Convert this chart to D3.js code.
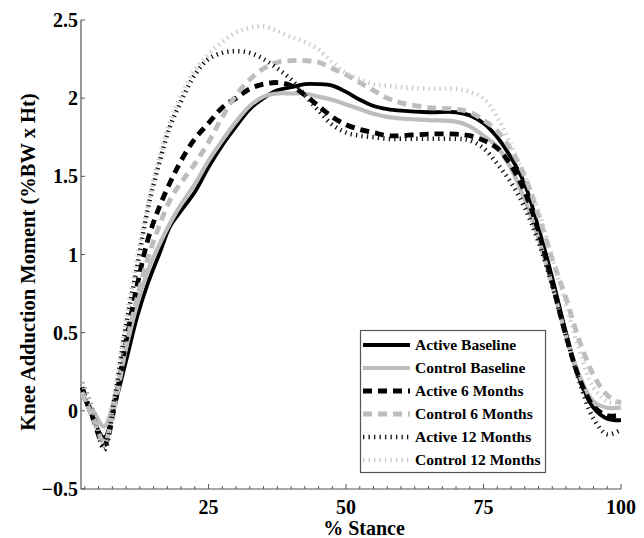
<!DOCTYPE html>
<html><head><meta charset="utf-8">
<script src="https://cdn.jsdelivr.net/npm/d3@7"></script>
<style>body{margin:0;background:#fff}svg{display:block}</style>
</head><body>
<svg id="chart" width="644" height="538"></svg>
<script>
const stance = [2,4,6,8,10,12,14,16,18,20,22.5,25,27.5,30,32.5,35,37.5,40,42.5,45,47.5,50,52.5,55,57.5,60,65,70,72.5,75,77.5,80,82.5,85,87.5,90,92.5,95,97.5,100];
const activeBaseline  = [0.12,-0.05,-0.17,0.05,0.32,0.60,0.82,1.00,1.18,1.28,1.40,1.56,1.70,1.82,1.93,2.00,2.05,2.07,2.09,2.09,2.08,2.04,1.99,1.95,1.93,1.92,1.91,1.91,1.89,1.84,1.75,1.62,1.45,1.17,0.85,0.50,0.20,0.02,-0.05,-0.06];
const controlBaseline = [0.10,0.00,-0.10,0.10,0.40,0.68,0.90,1.06,1.20,1.32,1.45,1.60,1.73,1.85,1.95,2.01,2.03,2.03,2.03,2.01,1.99,1.96,1.93,1.90,1.88,1.87,1.86,1.85,1.82,1.76,1.69,1.55,1.35,1.10,0.80,0.48,0.22,0.06,0.02,0.02];
const active6         = [0.15,-0.05,-0.22,0.05,0.45,0.80,1.10,1.30,1.46,1.60,1.74,1.84,1.94,2.00,2.06,2.09,2.10,2.08,2.02,1.95,1.88,1.83,1.80,1.78,1.76,1.76,1.77,1.77,1.76,1.73,1.68,1.57,1.40,1.15,0.82,0.48,0.20,0.03,-0.03,-0.03];
const control6        = [0.12,-0.05,-0.20,0.05,0.42,0.72,0.98,1.18,1.35,1.46,1.58,1.72,1.88,2.02,2.12,2.19,2.23,2.24,2.24,2.23,2.19,2.15,2.10,2.05,2.00,1.97,1.94,1.93,1.91,1.86,1.79,1.67,1.50,1.25,0.97,0.72,0.44,0.23,0.10,0.05];
const active12        = [0.18,0.00,-0.25,0.10,0.55,0.92,1.30,1.58,1.82,1.98,2.15,2.25,2.29,2.30,2.29,2.25,2.19,2.12,2.02,1.92,1.83,1.78,1.76,1.75,1.74,1.74,1.74,1.74,1.73,1.68,1.58,1.46,1.30,1.08,0.80,0.48,0.18,-0.05,-0.15,-0.12];
const control12       = [0.18,0.00,-0.22,0.12,0.58,0.98,1.32,1.62,1.85,2.02,2.18,2.28,2.36,2.42,2.45,2.46,2.43,2.39,2.36,2.31,2.23,2.16,2.12,2.09,2.08,2.07,2.06,2.06,2.04,2.00,1.88,1.70,1.50,1.28,0.98,0.68,0.38,0.15,0.06,0.05];

const seriesNames = ["Active Baseline","Control Baseline","Active 6 Months","Control 6 Months","Active 12 Months","Control 12 Months"];
const seriesValues = [activeBaseline,controlBaseline,active6,control6,active12,control12];
const yTicks = [-0.5,0,0.5,1,1.5,2,2.5];
const xTicks = [25,50,75,100];
const xLabel = "% Stance";
const yLabel = "Knee Adduction Moment (%BW x Ht)";

const styles = [
  {color:"#000", width:3.8, dash:null},
  {color:"#bdbdbd", width:4.2, dash:null},
  {color:"#000", width:4.8, dash:"9,6"},
  {color:"#bdbdbd", width:4.8, dash:"9,6"},
  {color:"#111", width:4.5, dash:"1.3,4.2"},
  {color:"#c8c8c8", width:4.5, dash:"1.3,4.2"}
];

const svg = d3.select("#chart");
const x = d3.scaleLinear().domain([1.8,100]).range([81,621]);
const y = d3.scaleLinear().domain([-0.5,2.5]).range([489,20]);
const font = "'Liberation Serif','Times New Roman',serif";

// axes
const axisColor = "#555";
svg.append("line").attr("x1",81).attr("x2",81).attr("y1",y(2.5)).attr("y2",y(-0.5)).attr("stroke",axisColor).attr("stroke-width",1.2);
svg.append("line").attr("x1",81).attr("x2",621).attr("y1",489).attr("y2",489).attr("stroke",axisColor).attr("stroke-width",1.2);

const minor = d3.range(2.5,100.01,2.5);
svg.selectAll(".mt").data(minor).join("line")
  .attr("x1",d=>x(d)).attr("x2",d=>x(d))
  .attr("y1",489).attr("y2",d=> (d%25===0)?484:486)
  .attr("stroke",axisColor).attr("stroke-width",1);
svg.selectAll(".xt").data(xTicks).join("text")
  .attr("x",d=>x(d)).attr("y",514).attr("text-anchor","middle")
  .attr("font-family",font).attr("font-weight","bold").attr("font-size",20)
  .text(d=>d);
svg.selectAll(".yt").data(yTicks).join("line")
  .attr("x1",81).attr("x2",85).attr("y1",d=>y(d)).attr("y2",d=>y(d))
  .attr("stroke",axisColor).attr("stroke-width",1);
svg.selectAll(".ytl").data(yTicks).join("text")
  .attr("x",78).attr("y",d=>y(d)+7).attr("text-anchor","end")
  .attr("font-family",font).attr("font-weight","bold").attr("font-size",20)
  .text(d=> d<0 ? "\u2212"+Math.abs(d) : d);
svg.append("text").attr("x",364).attr("y",535).attr("text-anchor","middle")
  .attr("font-family",font).attr("font-weight","bold").attr("font-size",20).text(xLabel);
svg.append("text").attr("transform","translate(35,262) rotate(-90)").attr("text-anchor","middle")
  .attr("font-family",font).attr("font-weight","bold").attr("font-size",20.5).text(yLabel);

// lines
const line = d3.line().x((d,i)=>x(stance[i])).y(d=>y(d)).curve(d3.curveCatmullRom.alpha(0.5));
seriesValues.forEach((vals,i)=>{
  const s = styles[i];
  svg.append("path").attr("d",line(vals)).attr("fill","none")
    .attr("stroke",s.color).attr("stroke-width",s.width)
    .attr("stroke-dasharray",s.dash).attr("stroke-linejoin","round");
});

// legend
const lg = svg.append("g");
lg.append("rect").attr("x",360.5).attr("y",330.5).attr("width",185).attr("height",142)
  .attr("fill","#fff").attr("stroke","#555").attr("stroke-width",1.2);
seriesNames.forEach((name,i)=>{
  const s = styles[i];
  const yy = 345 + i*23;
  lg.append("line").attr("x1",363).attr("x2",410).attr("y1",yy).attr("y2",yy)
    .attr("stroke",s.color).attr("stroke-width",s.width).attr("stroke-dasharray",s.dash);
  lg.append("text").attr("x",415).attr("y",yy+5).attr("font-family",font)
    .attr("font-weight","bold").attr("font-size",15.5).text(name);
});
</script>
</body></html>
